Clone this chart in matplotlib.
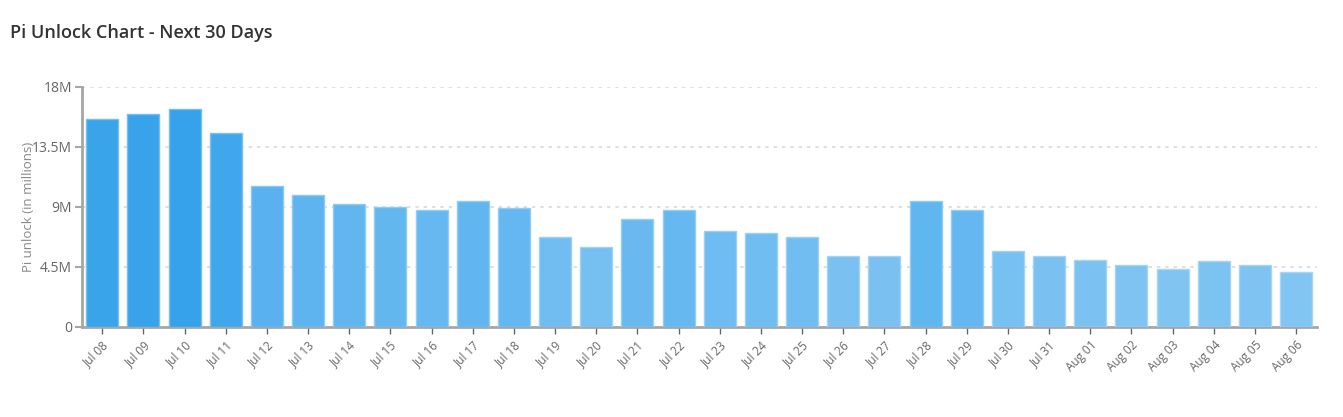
import numpy as np
import matplotlib.pyplot as plt
from matplotlib.colors import to_rgb

plt.rcParams['font.family'] = ['Open Sans', 'DejaVu Sans']

# Unlock schedule (millions of Pi)
dates = ['Jul 08', 'Jul 09', 'Jul 10', 'Jul 11', 'Jul 12', 'Jul 13', 'Jul 14', 'Jul 15',
         'Jul 16', 'Jul 17', 'Jul 18', 'Jul 19', 'Jul 20', 'Jul 21', 'Jul 22', 'Jul 23',
         'Jul 24', 'Jul 25', 'Jul 26', 'Jul 27', 'Jul 28', 'Jul 29', 'Jul 30', 'Jul 31',
         'Aug 01', 'Aug 02', 'Aug 03', 'Aug 04', 'Aug 05', 'Aug 06']
unlock = [15.6, 15.93, 16.3, 14.53, 10.55, 9.9, 9.2, 9.0,
          8.73, 9.4, 8.88, 6.7, 5.96, 8.08, 8.75, 7.15,
          7.0, 6.75, 5.3, 5.33, 9.43, 8.78, 5.68, 5.3,
          5.03, 4.6, 4.33, 4.9, 4.63, 4.08]

yticks = [0, 4.5, 9, 13.5, 18]
ytick_labels = ['0', '4.5M', '9M', '13.5M', '18M']

# colour: Chart.js blue, fading with value
base = np.array(to_rgb('#36A2EB'))
vals = np.array(unlock)
alpha = 0.5 + 0.5 * vals / vals.max()
colors = [tuple(base * a + (1 - a)) for a in alpha]
edges = [tuple(np.clip(base * a + (1 - a), 0, 1) * 0.7 + 0.3) for a in alpha]

fig = plt.figure(figsize=(13.43, 4.17), dpi=100)
ax = fig.add_axes([0.0608, 0.2166, 0.9196, 0.5754])

x = np.arange(len(dates))
ax.bar(x, unlock, width=0.78, color=colors, edgecolor=edges, linewidth=1, zorder=3)

ax.set_xlim(-0.5, len(dates) - 0.5)
ax.set_ylim(0, 18)
ax.set_yticks(yticks)
ax.set_yticklabels(ytick_labels)
ax.set_xticks(x)
ax.set_xticklabels(dates, rotation=45, ha='right', rotation_mode='anchor')

ax.grid(axis='y', color='#d9d9d9', linestyle=(0, (2, 3)), linewidth=1.2, zorder=0)
for s in ['top', 'right']:
    ax.spines[s].set_visible(False)
for s in ['left', 'bottom']:
    ax.spines[s].set_color('#a6a6a6')
    ax.spines[s].set_linewidth(2)

ax.tick_params(axis='y', colors='#a6a6a6', labelcolor='#666666', labelsize=10, length=5, width=1.5, pad=2)
ax.tick_params(axis='x', colors='#666666', labelcolor='#666666', labelsize=8.5, length=5, width=1)

ax.set_ylabel('Pi unlock (in millions)', fontsize=9.5, color='#888888')
ax.yaxis.set_label_coords(-0.0375, 0.5)

fig.text(0.0075, 0.921, 'Pi Unlock Chart - Next 30 Days', fontsize=13, fontweight=600,
         color='#333333', va='center', ha='left')

fig.savefig('out.png', dpi=100)
